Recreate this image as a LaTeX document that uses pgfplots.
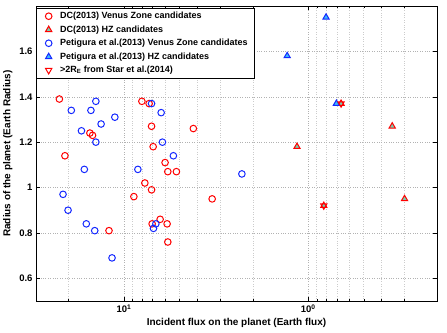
\documentclass[border=0pt]{standalone}
\usepackage{fontspec}
\setmainfont{Liberation Sans}
\usepackage{pgfplots}
\pgfplotsset{compat=1.18}
\usetikzlibrary{calc}
\definecolor{hzteal}{RGB}{120,205,175}
\definecolor{hzcyan}{RGB}{60,185,250}
\definecolor{mred}{RGB}{255,0,0}
\definecolor{mblue}{RGB}{20,40,255}

\begin{document}
\begin{tikzpicture}
\begin{axis}[name=ax, scale only axis, width=401pt, height=295pt,
    xmode=log, x dir=reverse, xmin=0.2, xmax=30, ymin=0.5, ymax=1.8,
    xtick={1,10}, xticklabels={\textbf{10}\textsuperscript{\textbf{0}}, \textbf{10}\textsuperscript{\textbf{1}}},
    minor xtick={0.2,0.3,0.4,0.5,0.6,0.7,0.8,0.9,2,3,4,5,6,7,8,9,20,30},
    ytick={0.6,0.8,1,1.2,1.4,1.6},
    grid=both, major grid style={dotted, gray!60}, minor grid style={dotted, gray!40},
    tick align=inside, major tick length=4pt, minor tick length=2pt, tick style={black},
    axis line style={black},
    ticklabel style={font=\fontsize{9.5}{11}\selectfont\bfseries},
    /pgf/number format/assume math mode=true,
    xlabel={Incident flux on the planet (Earth flux)},
    ylabel={Radius of the planet (Earth Radius)},
    label style={font=\fontsize{10}{12}\selectfont\bfseries},
    xlabel style={yshift=2pt},
    legend style={at={(0,1)}, anchor=north west, yshift=-2pt, draw=black, fill=white,
        font=\fontsize{9}{10}\selectfont\bfseries, row sep=1.5pt, inner xsep=3pt,
        nodes={inner xsep=3pt}},
    legend image code/.code={\path (0pt,0pt) (17pt,0pt); \draw[#1] plot coordinates {(9pt,0pt)};},
    legend cell align=left,
    every axis plot/.append style={line width=1pt},
]
% DC(2013) Venus Zone
\addplot[only marks, mark=o, mark size=3.3pt, mred] coordinates {
(22.4,1.39) (20.9,1.14) (15.3,1.24) (14.8,1.23) (12.05,0.81) (8.83,0.96)
(7.99,1.38) (7.70,1.02) (7.30,1.37) (7.08,0.99) (7.08,1.27) (6.94,1.18)
(7.03,0.84) (6.36,0.86) (5.98,1.11) (5.83,0.84) (5.78,1.07) (5.19,1.07)
(5.78,0.76) (4.20,1.26) (3.32,0.95)};
\addlegendentry{DC(2013) Venus Zone candidates}
% DC(2013) HZ
\addplot[only marks, mark=triangle*, mark size=3.6pt, mred, mark options={fill=hzteal}] coordinates {
(1.15,1.18) (0.35,1.27) (0.30,0.95) (0.663,1.37) (0.823,0.92)};
\addlegendentry{DC(2013) HZ candidates}
% Petigura Venus Zone
\addplot[only marks, mark=o, mark size=3.3pt, mblue] coordinates {
(19.3,1.34) (14.2,1.38) (15.1,1.34) (11.2,1.31) (13.3,1.28) (17.0,1.25)
(14.2,1.20) (16.4,1.08) (21.4,0.97) (20.1,0.90) (16.0,0.84) (14.4,0.81)
(11.6,0.69) (8.40,1.08) (7.08,1.37) (6.28,1.33) (6.18,1.20) (5.39,1.14)
(6.91,0.82) (6.71,0.84) (2.29,1.06)};
\addlegendentry{Petigura et al.(2013) Venus Zone candidates}
% Petigura HZ
\addplot[only marks, mark=triangle*, mark size=3.6pt, mblue, mark options={fill=hzcyan}] coordinates {
(0.80,1.75) (1.30,1.58) (0.703,1.37)};
\addlegendentry{Petigura et al.(2013) HZ candidates}
% >2 R_E from Star et al.
\addplot[only marks, mark=triangle, mark size=3.6pt, mred, mark options={rotate=180}] coordinates {
(0.663,1.37) (0.823,0.92)};
\addlegendentry{>2R\textsubscript{E} from Star et al.(2014)}
\end{axis}
\pgfresetboundingbox
\path ($(ax.south west)+(-36pt,-32pt)$) rectangle ($(ax.north east)+(10pt,6pt)$);
\end{tikzpicture}
\end{document}
